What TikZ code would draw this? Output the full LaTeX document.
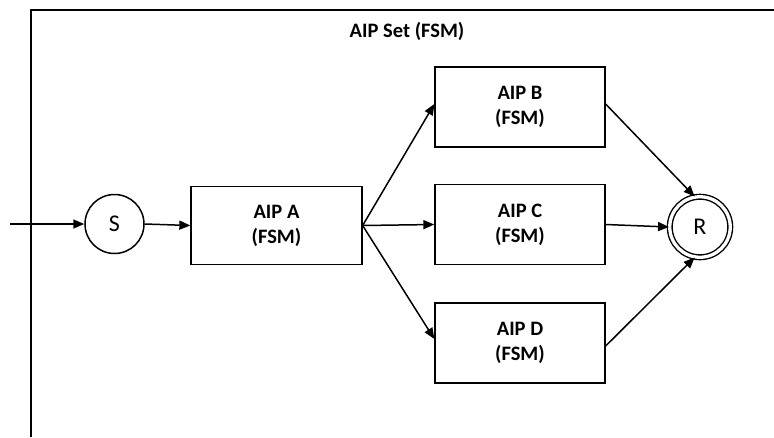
\documentclass[tikz,border=0pt]{standalone}
\usepackage{fontspec}
\setmainfont{Carlito}
\usetikzlibrary{arrows.meta}
\tikzset{
  fsmbox/.style={draw, line width=1.3pt, minimum width=170pt, minimum height=80pt, inner sep=0pt,
    align=center, font=\bfseries\fontsize{20.5}{25}\selectfont},
  statecirc/.style={draw, circle, line width=1.5pt, inner sep=0pt, font=\fontsize{24}{28}\selectfont},
  conn/.style={line width=1.5pt, -{Triangle[length=11pt,width=9pt]}},
  framel/.style={line width=1.4pt}
}
\begin{document}
\begin{tikzpicture}[x=1pt,y=-1pt]
\useasboundingbox (0,0) rectangle (774,437);
\draw[framel] (31,437) -- (31,10) -- (774,10);
\node[anchor=base, font=\bfseries\fontsize{20.5}{24}\selectfont] (title) at (407,37) {AIP Set (FSM)};
\coordinate (in0) at (10,224);
\node[statecirc, minimum size=59pt] (S) at (114.5,224) {S};
\node[fsmbox, minimum width=171pt, minimum height=78pt] (A) at (276.5,225.5) {AIP A\\(FSM)};
\node[fsmbox] (B) at (520,107) {AIP B\\(FSM)};
\node[fsmbox] (C) at (520,224.5) {AIP C\\(FSM)};
\node[fsmbox] (D) at (520,343) {AIP D\\(FSM)};
\node[statecirc, double, double distance=3.3pt, line width=1.4pt, minimum size=60.5pt] (R) at (700,227) {R};
\draw[conn] (in0) -- (S.west);
\draw[conn] (S.east) -- (A.west);
\draw[conn] (A.east) -- ([yshift=3pt]B.west);
\draw[conn] (A.east) -- (C.west);
\draw[conn] (A.east) -- ([yshift=4pt]D.west);
\draw[conn] ([yshift=3pt]B.east) -- (R.100);
\draw[conn] (C.east) -- (R.west);
\draw[conn] ([yshift=-3pt]D.east) -- (R.260);
\end{tikzpicture}
\end{document}
